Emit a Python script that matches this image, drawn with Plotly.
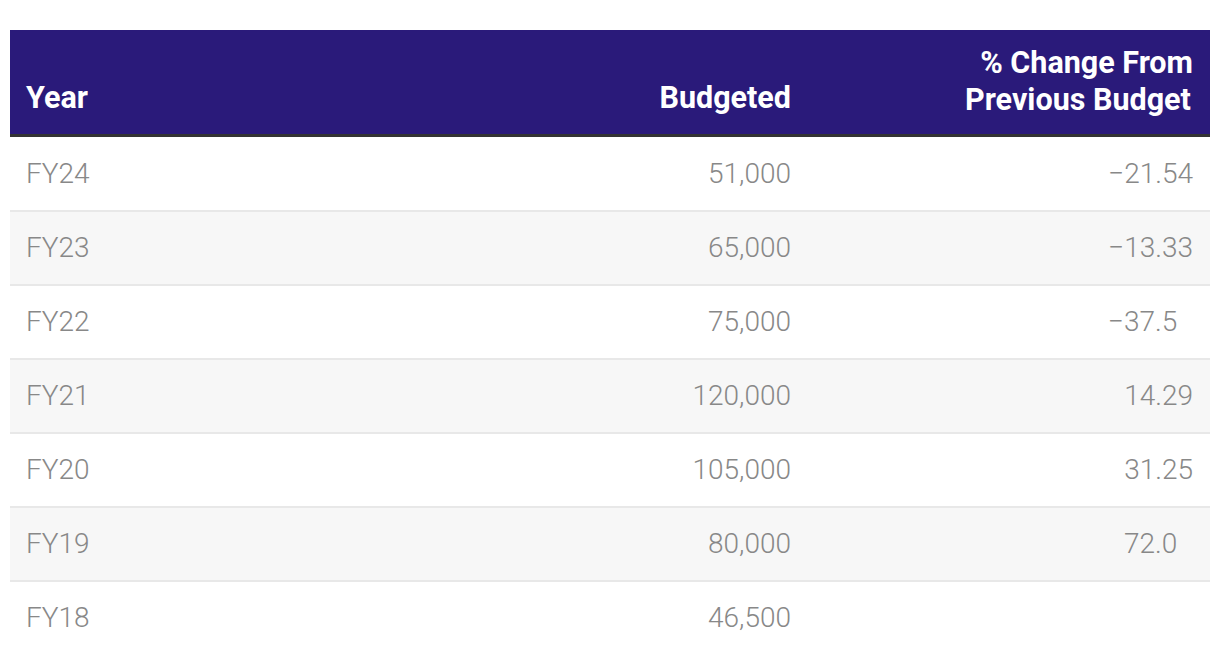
import plotly.graph_objects as go

years = ["FY24", "FY23", "FY22", "FY21", "FY20", "FY19", "FY18"]
budgeted = [51000, 65000, 75000, 120000, 105000, 80000, 46500]
pct_change = [-21.54, -13.33, -37.5, 14.29, 31.25, 72.0, None]
headers = ["Year", "Budgeted", "% Change From", "Previous Budget"]

HEAD_BG = "#2a1a7a"
STRIPE = "#f7f7f7"
SEP = "#e8e8e8"
TEXT = "#888888"


def fmt_pct(v):
    if v is None:
        return ""
    s = f"{v}".replace("-", "\u2212")
    dec = s.split(".")[1] if "." in s else ""
    return s + "\u2007" * (2 - len(dec))


def hspan(t):
    return f"<span style='font-size:30.5px'>{t}</span>"


header_vals = [
    "\u00a0<br>" + hspan(headers[0]),
    "\u00a0<br>" + hspan(headers[1]),
    hspan("\u00a0\u00a0" + headers[2]) + "<br>" + hspan(headers[3]),
]

fig = go.Figure(go.Table(
    columnwidth=[390, 391, 402],
    header=dict(values=header_vals, fill_color="rgba(0,0,0,0)", line_width=0,
                font=dict(family="Roboto", size=28.46, color="white", weight="bold"),
                align=["left", "right", "right"], height=117),
    cells=dict(values=[years, [f"{b:,}" for b in budgeted], [fmt_pct(v) for v in pct_change]],
               fill_color="rgba(0,0,0,0)", line_width=0,
               font=dict(family="Roboto", size=28, color=TEXT, weight=300),
               align=["left", "right", "right"], height=74),
))

# background decoration (pixel offsets from the top-left corner of the plot area)
shapes = []
def band(y_top, y_bot, color):
    shapes.append(dict(type="rect", xref="paper", yref="paper",
                       xsizemode="pixel", ysizemode="pixel", xanchor=0, yanchor=1,
                       x0=-8, x1=1192, y0=-y_top, y1=-y_bot,
                       fillcolor=color, line_width=0, layer="below"))

band(-7, 97, HEAD_BG)          # header block
band(97, 100, "#333333")       # header rule
row_top, row_h = 100, 74
for i in range(len(years)):
    if i % 2 == 1:
        band(row_top + i * row_h, row_top + (i + 1) * row_h, STRIPE)
for i in range(1, len(years)):
    y = row_top + i * row_h
    band(y - 1, y + 1, SEP)

fig.update_layout(width=1220, height=664, margin=dict(l=10, r=27, t=29, b=0),
                  paper_bgcolor="white", shapes=shapes)
fig.write_html("out.html")
